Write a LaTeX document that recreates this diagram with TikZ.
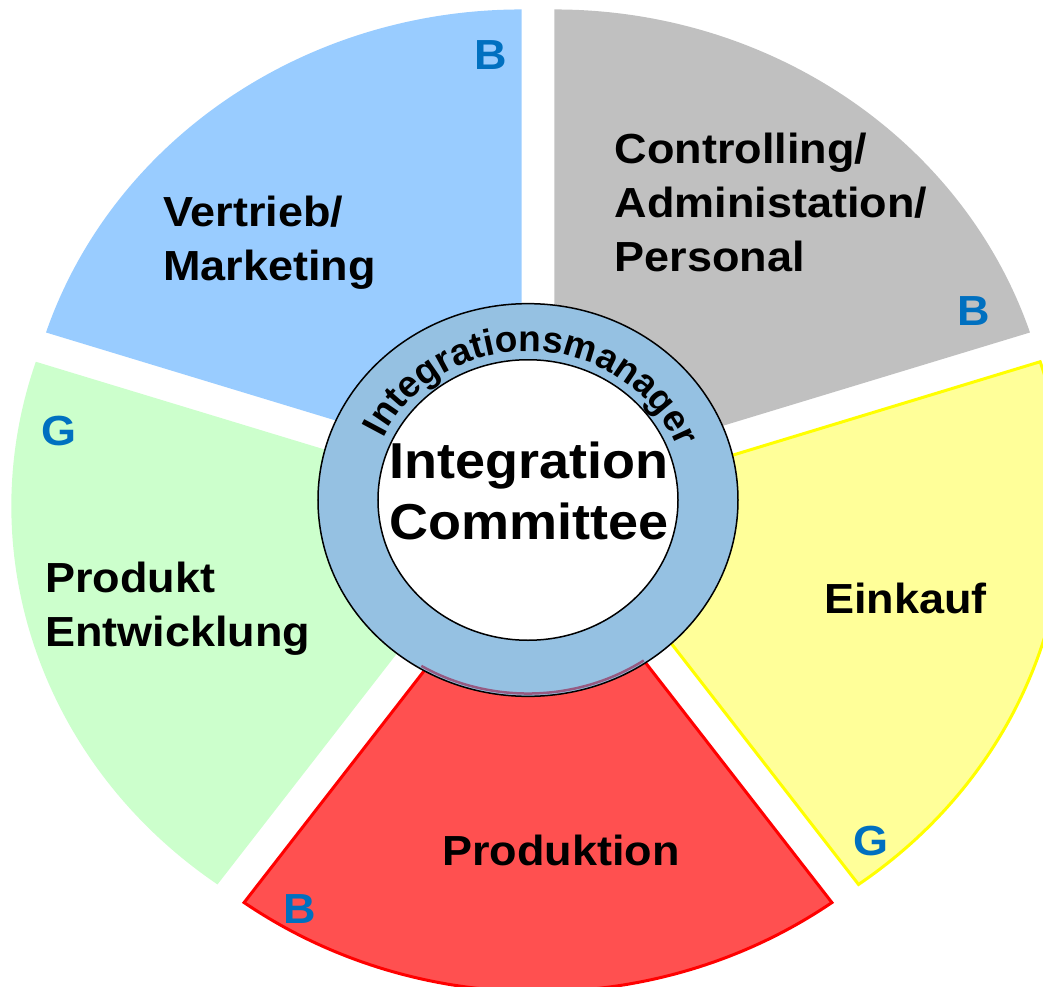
\documentclass[tikz,border=0pt]{standalone}
\usepackage{fontspec}
\setmainfont{Liberation Sans}
\usetikzlibrary{decorations.text}

\definecolor{salesblue}{HTML}{99CCFF}
\definecolor{admingray}{HTML}{C0C0C0}
\definecolor{devgreen}{HTML}{CCFFCC}
\definecolor{buyfill}{HTML}{FFFF99}
\definecolor{buyline}{HTML}{FFFF00}
\definecolor{prodfill}{HTML}{FF5050}
\definecolor{prodline}{HTML}{FF0000}
\definecolor{ringblue}{HTML}{95C1E2}
\definecolor{tagblue}{HTML}{0070C0}
\definecolor{seamcol}{RGB}{150,90,130}

% slice geometry: inner radius, outer radius, outward offset
\newcommand\rin{170}
\newcommand\rout{500}
\newcommand\offs{28}

% one exploded ring sector: #1 start angle, #2 end angle, #3 offset direction, #4 style
\newcommand\pieseg[4]{%
  \begin{scope}[shift={(#3:\offs)}]
    \path[#4] (#1:\rin) -- (#1:\rout)
      arc[start angle=#1, end angle=#2, radius=\rout]
      -- (#2:\rin)
      arc[start angle=#2, end angle=#1, radius=\rin] -- cycle;
  \end{scope}}

\newcommand\ringfont{\fontsize{37}{40}\selectfont\bfseries}

\begin{document}
\begin{tikzpicture}[x=1pt, y=1pt, yscale=0.935,
  lbl/.style={font=\fontsize{45}{58}\selectfont\bfseries, inner sep=0pt, transform shape},
  centertext/.style={font=\fontsize{54}{65}\selectfont\bfseries, inner sep=0pt, anchor=base, transform shape},
  tagletter/.style={font=\fontsize{45}{58}\selectfont\bfseries, text=tagblue, inner sep=0pt, anchor=base, transform shape},
  outlined/.style={line width=3pt, line join=miter}]

\useasboundingbox (-528,534.76) rectangle (515,-519.79);

% the five departments as an exploded ring
\begin{scope}[shift={(10,2)}]
  \pieseg{90}{162}{126}{fill=salesblue}
  \pieseg{18}{90}{54}{fill=admingray}
  \pieseg{162}{234}{198}{fill=devgreen}
  \pieseg{-54}{18}{-18}{fill=buyfill, draw=buyline, outlined}
  \pieseg{234}{306}{270}{fill=prodfill, draw=prodline, outlined}
\end{scope}

% integration manager ring and committee core
\path[fill=ringblue, draw=black, line width=1.5pt] (0,0) circle[radius=210];
\draw[seamcol, line width=2.5pt] (239:207) arc[start angle=239, end angle=304, radius=207];
\path[fill=white, draw=black, line width=1.5pt] (0,0) circle[radius=150];

\path[decorate, decoration={text along path,
    text={|\ringfont|Integrationsmanager}, text align=center}]
  (178:159) arc[start angle=178, end angle=-2, radius=159];

\node[centertext] (committee) at (1,23.2)
  {\begin{tabular}[t]{@{}c@{}}Integration\\Committee\end{tabular}};

% department labels
\node[lbl, anchor=base west] (sales) at (-365,292.3)
  {\begin{tabular}[t]{@{}l@{}}Vertrieb/\\Marketing\end{tabular}};
\node[lbl, anchor=base west] (admin) at (86.5,360.1)
  {\begin{tabular}[t]{@{}l@{}}Controlling/\\Administation/\\Personal\end{tabular}};
\node[lbl, anchor=base west] (dev) at (-483,-99.1)
  {\begin{tabular}[t]{@{}l@{}}Produkt\\Entwicklung\end{tabular}};
\node[lbl, anchor=base] (buy) at (377.5,-120.9) {Einkauf};
\node[lbl, anchor=base] (prod) at (32.8,-390.4) {Produktion};

% B / G markers
\node[tagletter] (tagsales) at (-37.7,460.6) {B};
\node[tagletter] (tagadmin) at (446,186.1) {B};
\node[tagletter] (tagdev) at (-468.8,58.8) {G};
\node[tagletter] (tagbuy) at (343.3,-379.7) {G};
\node[tagletter] (tagprod) at (-228,-452.7) {B};

\end{tikzpicture}
\end{document}
